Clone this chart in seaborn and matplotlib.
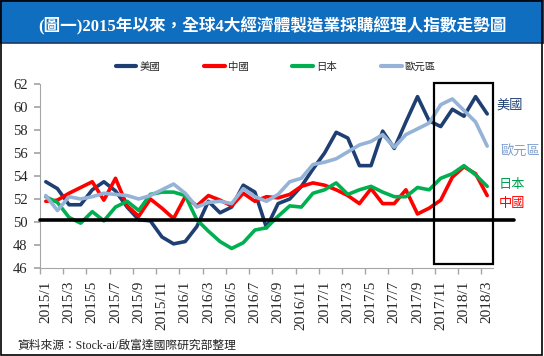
import numpy as np
import pandas as pd
import matplotlib
matplotlib.use("Agg")
import matplotlib.pyplot as plt
import matplotlib.patches as mpatches
import seaborn as sns

# ---------------------------------------------------------------------------
# 資料 (2015/1 ~ 2018/3，製造業 PMI)
# ---------------------------------------------------------------------------
months = [
    "2015/1", "2015/2", "2015/3", "2015/4", "2015/5", "2015/6", "2015/7", "2015/8",
    "2015/9", "2015/10", "2015/11", "2015/12",
    "2016/1", "2016/2", "2016/3", "2016/4", "2016/5", "2016/6", "2016/7", "2016/8",
    "2016/9", "2016/10", "2016/11", "2016/12",
    "2017/1", "2017/2", "2017/3", "2017/4", "2017/5", "2017/6", "2017/7", "2017/8",
    "2017/9", "2017/10", "2017/11", "2017/12",
    "2018/1", "2018/2", "2018/3",
]

us = [53.5, 52.9, 51.5, 51.5, 52.8, 53.5, 52.7, 51.3, 50.2, 50.1, 48.7, 48.1,
      48.3, 49.6, 51.8, 50.8, 51.3, 53.2, 52.6, 49.5, 51.6, 52.0, 53.1, 54.6,
      56.0, 57.8, 57.3, 54.9, 54.9, 57.9, 56.4, 58.7, 60.9, 58.8, 58.3, 59.8,
      59.2, 60.9, 59.4]
china = [51.8, 51.9, 52.5, 53.0, 53.5, 51.9, 53.8, 51.4, 50.5, 52.0, 51.2, 50.3,
         52.2, 51.4, 52.3, 51.9, 51.4, 52.5, 51.8, 52.2, 52.1, 52.4, 53.1, 53.4,
         53.2, 52.8, 52.3, 51.6, 52.9, 51.6, 51.6, 52.8, 50.7, 51.2, 51.9, 53.9,
         54.8, 54.2, 52.3]
japan = [52.2, 51.7, 50.4, 49.9, 50.9, 50.1, 51.3, 51.8, 51.0, 52.4, 52.6, 52.6,
         52.3, 50.2, 49.2, 48.3, 47.7, 48.2, 49.3, 49.5, 50.5, 51.4, 51.3, 52.5,
         52.8, 53.4, 52.4, 52.8, 53.1, 52.6, 52.2, 52.2, 53.0, 52.8, 53.8, 54.2,
         54.9, 54.1, 53.1]
euro = [52.3, 51.0, 52.2, 52.0, 52.2, 52.5, 52.4, 52.3, 52.0, 52.3, 52.8, 53.3,
        52.5, 51.3, 51.7, 51.8, 51.6, 52.9, 52.2, 51.8, 52.4, 53.5, 53.8, 55.0,
        55.2, 55.5, 56.1, 56.7, 57.0, 57.6, 56.5, 57.6, 58.1, 58.6, 60.2, 60.7,
        59.7, 58.7, 56.6]

series_names = ["美國", "中國", "日本", "歐元區"]
series_vals = [us, china, japan, euro]
palette = {"美國": "#1F3F73", "中國": "#FF0000", "日本": "#00B050", "歐元區": "#95B3D7"}
end_label_colors = {"美國": "#1F3F73", "中國": "#FF0000", "日本": "#00A050", "歐元區": "#7F9FCF"}

base_line = 50.2

rows = []
for name, vals in zip(series_names, series_vals):
    for i, v in enumerate(vals):
        rows.append({"idx": i, "month": months[i], "country": name, "pmi": v})
df = pd.DataFrame(rows)

# ---------------------------------------------------------------------------
# 圖形
# ---------------------------------------------------------------------------
sns.set_theme(style="white")
plt.rcParams["font.family"] = ["Liberation Serif", "Noto Sans CJK TC", "DejaVu Sans"]
plt.rcParams["axes.unicode_minus"] = False
CJK = ["Noto Sans CJK TC", "DejaVu Sans"]

fig = plt.figure(figsize=(5.44, 3.56), dpi=100)
ax = fig.add_axes([40 / 544, 1 - 268 / 356, 453 / 544, 184 / 356])

sns.lineplot(data=df, x="idx", y="pmi", hue="country", hue_order=series_names,
             palette=palette, linewidth=2.6, ax=ax, legend=False, sort=False)

ax.set_xlim(-0.5, len(months) - 0.5)
ax.set_ylim(46, 62)
ax.set_yticks(np.arange(46, 63, 2))
ax.tick_params(axis="y", labelsize=10.5, length=4, color="#A6A6A6", pad=5, left=True)

label_pos = np.arange(0, len(months), 2)
ax.set_xticks(label_pos)
ax.set_xticklabels([months[i] for i in label_pos], rotation=90, fontsize=11)
ax.set_xticks(np.arange(-0.5, len(months), 2), minor=True)
ax.tick_params(axis="x", which="major", length=0, pad=9)
ax.tick_params(axis="x", which="minor", length=4, color="#A6A6A6", bottom=True)
ax.set_xlabel("")
ax.set_ylabel("")

for s in ["top", "right"]:
    ax.spines[s].set_visible(False)
for s in ["left", "bottom"]:
    ax.spines[s].set_color("#A6A6A6")
    ax.spines[s].set_linewidth(0.8)

# 50 榮枯線
ax.plot([-0.5, 40.3], [base_line, base_line], color="black", lw=2.6,
        clip_on=False, zorder=5)

# 近期框線
ax.add_patch(mpatches.Rectangle((33.4, 46.35), 5.1, 15.75, fill=False,
                                edgecolor="black", lw=1.6, clip_on=False, zorder=6))

# 圖例
handles = [plt.Line2D([], [], color=palette[n], lw=3) for n in series_names]
fig.legend(handles, series_names, loc="center", bbox_to_anchor=(0.507, 0.812),
           ncol=4, frameon=False, handlelength=2.0, handletextpad=0.3,
           columnspacing=4.2, prop={"family": CJK, "size": 7.5})

# 右側標籤
for name, (x, y) in zip(["美國", "歐元區", "日本", "中國"],
                        [(510, 105), (520, 151), (512, 184), (512, 203)]):
    fig.text(x / 544, 1 - y / 356, name, color=end_label_colors[name],
             ha="center", va="center", fontsize=9.5, family=CJK)

# 標題列
fig.patches.append(mpatches.Rectangle((0, 1 - 43 / 356), 1, 43 / 356,
                                      transform=fig.transFigure, facecolor="#0F6EC0",
                                      edgecolor="#1F3864", lw=1.2, zorder=0))
fig.text(0.5, 1 - 26 / 356, "(圖一)2015年以來，全球4大經濟體製造業採購經理人指數走勢圖",
         color="white", ha="center", va="center", fontsize=12, fontweight="bold")

# 資料來源
fig.text(17 / 544, 1 - 349 / 356, "資料來源：Stock-ai/啟富達國際研究部整理",
         ha="left", va="baseline", fontsize=8.5, color="#222222")

# 外框
fig.patches.append(mpatches.Rectangle((0.002, 0.003), 0.994, 0.994,
                                      transform=fig.transFigure, fill=False,
                                      edgecolor="black", lw=1.2, zorder=10))

fig.savefig("out.png", dpi=100)
